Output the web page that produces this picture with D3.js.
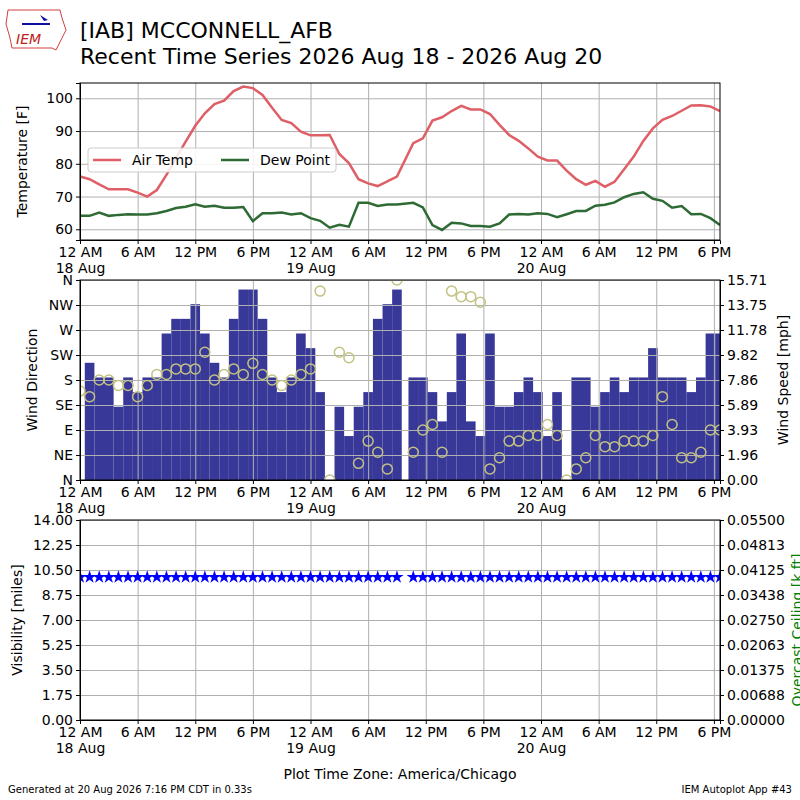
<!DOCTYPE html>
<html lang="en">
<head>
<meta charset="UTF-8">
<script src="https://cdn.jsdelivr.net/npm/d3@7"></script>
<title>IAB time series</title>
<style>
    body { margin: 0; background: #fff; }
    text { font-family: "DejaVu Sans", sans-serif; }
    .grid line { stroke: #b0b0b0; stroke-width: 1; }
    .grid path { display: none; }
    .axis text { font-size: 14px; fill: #000; }
    .axis path, .axis line { stroke: #000; }
</style>
</head>
<body>
<div id="canvas"></div>
<script>
    // hourly obs, hours since 18 Aug 00:00 (local)
    var t1 = d3.range(0, 34), t2 = d3.range(0, 33).map(function (k) { return 34.7 + k * 0.998; });
    var hours = t1.concat(t2);

    var tmpf = [76.1, 75.3, 73.7, 72.2, 72.2, 72.2, 71.2, 70.0, 72.0, 76.6, 81.7, 86.8, 91.6, 95.4, 98.2, 99.3, 102.2, 103.6,
        103.1, 101.0, 97.1, 93.4, 92.4, 89.8, 88.7, 88.7, 88.8, 83.0, 80.2, 75.3, 74.0, 73.2, 74.6, 76.1,
        86.3, 87.8, 93.2, 94.2, 96.1, 97.7, 96.6, 96.6, 95.2, 91.9, 88.8, 87.0, 84.7, 82.2, 81.0, 81.0, 77.9,
        75.3, 73.6, 74.8, 73.0, 74.5, 78.3, 82.2, 87.0, 90.8, 93.4, 94.6, 96.2, 97.8, 97.9, 97.5, 96.1];
    var dwpf = [64.1, 64.1, 65.1, 64.1, 64.4, 64.6, 64.5, 64.5, 64.9, 65.6, 66.5, 66.9, 67.6, 66.9, 67.2, 66.6, 66.6, 66.8,
        62.5, 64.9, 64.9, 65.1, 64.5, 64.9, 63.4, 62.6, 60.5, 61.4, 60.8, 68.1, 68.1, 67.1, 67.6, 67.6,
        68.1, 66.7, 61.3, 59.8, 62.0, 61.8, 61.0, 61.0, 60.8, 61.8, 64.5, 64.7, 64.5, 64.9, 64.7, 63.7, 64.6,
        65.6, 65.6, 67.2, 67.5, 68.2, 69.8, 70.8, 71.3, 69.3, 68.7, 66.6, 67.1, 64.6, 64.7, 63.4, 61.3];
    // knots
    var sknt = [null, 8, 7, 7, 5, 7, 6, 7, 7, 10, 11, 11, 12, 10, 8, 7, 11, 13, 13, 11, 7, 6, 7, 10, 9, 6, 0, 5, 3, 5, 6, 11, 12, 13,
        7, 7, 6, 4, 6, 10, 4, 3, 10, 5, 5, 6, 7, 6, 3, 6, 0, 7, 7, 5, 6, 7, 6, 7, 7, 9, 7, 7, 7, 6, 7, 10, 10];
    var drct = [160, 150, 180, 180, 170, 170, 150, 170, 190, 190, 200, 200, 200, 230, 180, 190, 200, 190, 210, 190, 180, 170,
        180, 190, 200, 340, 0, 230, 220, 30, 70, 50, 20, 360,
        50, 90, 100, 50, 340, 330, 330, 320, 20, 40, 70, 70, 80, 80, 100, 80, 0, 20, 40, 80, 60, 60, 70, 70, 70, 80,
        150, 100, 40, 40, 50, 90, 90];
    var vsby = hours.map(function () { return 10; });

    var start = new Date(2026, 7, 18, 0, 0);
    function toDate(h) { return new Date(start.getTime() + h * 3600e3); }
    var obs = hours.map(function (h, i) {
        return {date: toDate(h), h: h, tmpf: tmpf[i], dwpf: dwpf[i],
            smph: sknt[i] == null ? null : sknt[i] * 1.1508, drct: drct[i], vsby: vsby[i]};
    });

    var W = 800, H = 800, left = 80, right = 720;
    var svg = d3.select("#canvas").append("svg").attr("width", W).attr("height", H);

    var x = d3.scaleTime().domain([start, toDate(hours[hours.length - 1])]).range([left, right]);
    var ticks = d3.range(0, 67, 6).map(toDate);

    function timeAxis(g, y) {
        var ax = d3.axisBottom(x).tickValues(ticks).tickSize(4).tickPadding(3).tickFormat(d3.timeFormat("%-I %p"));
        g.attr("class", "axis").attr("transform", "translate(0," + y + ")").call(ax);
        g.selectAll(".tick text").each(function (d) {
            if (d.getHours() === 0) {
                d3.select(this).append("tspan").attr("x", 0).attr("dy", "1.15em").text(d3.timeFormat("%-d %b")(d));
            }
        });
    }
    function vgrid(top, bottom) {
        svg.append("g").attr("class", "grid").attr("transform", "translate(0," + bottom + ")")
            .call(d3.axisBottom(x).tickValues(ticks).tickSize(-(bottom - top)).tickFormat(""));
    }
    function hgrid(y, vals) {
        svg.append("g").attr("class", "grid").attr("transform", "translate(" + left + ",0)")
            .call(d3.axisLeft(y).tickValues(vals).tickSize(-(right - left)).tickFormat(""));
    }
    function frame(top, bottom) {
        svg.append("rect").attr("x", left).attr("y", top).attr("width", right - left).attr("height", bottom - top)
            .attr("fill", "none").attr("stroke", "#000");
    }
    function clip(id, top, bottom) {
        svg.append("clipPath").attr("id", id).append("rect").attr("x", left).attr("y", top)
            .attr("width", right - left).attr("height", bottom - top);
    }

    // ---- header
    svg.append("text").attr("x", 80).attr("y", 38).attr("font-size", 22).text("[IAB] MCCONNELL_AFB");
    svg.append("text").attr("x", 80).attr("y", 64).attr("font-size", 22).text("Recent Time Series 2026 Aug 18 - 2026 Aug 20");
    var logo = svg.append("g");
    logo.append("path").attr("d", "M8,10 L60,10 L62,18 L66,30 L60,42 L56,50 L52,48 L12,48 L10,38 L6,24 Z")
        .attr("fill", "none").attr("stroke", "#d04040").attr("stroke-width", 1);
    logo.append("line").attr("x1", 22).attr("y1", 24).attr("x2", 50).attr("y2", 24).attr("stroke", "#1010a0").attr("stroke-width", 2);
    logo.append("path").attr("d", "M40,15 L48,20 L44,21 Z").attr("fill", "#1010a0");
    logo.append("text").attr("x", 16).attr("y", 44).attr("font-size", 14).attr("font-style", "italic")
        .attr("font-family", "Liberation Serif, serif").attr("fill", "#c02020").text("IEM");

    // ---- panel 1 temperature
    var p1t = 83, p1b = 240;
    var yT = d3.scaleLinear().domain([56.73, 104.67]).range([p1b, p1t]);
    vgrid(p1t, p1b);
    hgrid(yT, [60, 70, 80, 90, 100]);
    clip("c1", p1t, p1b);
    var series = [{key: "tmpf", name: "Air Temp", color: "#df5f67"}, {key: "dwpf", name: "Dew Point", color: "#2e6a33"}];
    series.forEach(function (s) {
        svg.append("path").datum(obs).attr("clip-path", "url(#c1)")
            .attr("fill", "none").attr("stroke", s.color).attr("stroke-width", 2.5)
            .attr("d", d3.line().x(function (d) { return x(d.date); }).y(function (d) { return yT(d[s.key]); }));
    });
    frame(p1t, p1b);
    svg.append("g").attr("class", "axis").attr("transform", "translate(" + left + ",0)")
        .call(d3.axisLeft(yT).tickValues([60, 70, 80, 90, 100]).tickSize(4));
    timeAxis(svg.append("g"), p1b);
    svg.append("text").attr("transform", "translate(27," + ((p1t + p1b) / 2) + ") rotate(-90)")
        .attr("text-anchor", "middle").attr("font-size", 14).text("Temperature [F]");
    var lg = svg.append("g").attr("transform", "translate(88,148)");
    lg.append("rect").attr("width", 248).attr("height", 24).attr("rx", 3)
        .attr("fill", "#fff").attr("fill-opacity", 0.85).attr("stroke", "#ccc");
    series.forEach(function (s, i) {
        var gx = 5 + i * 128;
        lg.append("line").attr("x1", gx).attr("x2", gx + 28).attr("y1", 12).attr("y2", 12)
            .attr("stroke", s.color).attr("stroke-width", 2.5);
        lg.append("text").attr("x", gx + 39).attr("y", 17).attr("font-size", 14).text(s.name);
    });

    // ---- panel 2 wind
    var p2t = 280, p2b = 480;
    var yD = d3.scaleLinear().domain([0, 360]).range([p2b, p2t]);
    var yS = d3.scaleLinear().domain([0, 15.71]).range([p2b, p2t]);
    clip("c2", p2t, p2b);
    var hw = (x(toDate(1)) - x(toDate(0))) / 2;
    svg.append("g").attr("clip-path", "url(#c2)").selectAll("rect").data(obs.filter(function (d) { return d.smph; }))
        .join("rect")
        .attr("x", function (d) { return x(d.date) - hw; })
        .attr("width", hw * 2)
        .attr("y", function (d) { return yS(d.smph); })
        .attr("height", function (d) { return p2b - yS(d.smph); })
        .attr("fill", "#383898");
    vgrid(p2t, p2b);
    hgrid(yD, d3.range(0, 361, 45));
    svg.append("g").attr("clip-path", "url(#c2)").selectAll("circle").data(obs).join("circle")
        .attr("cx", function (d) { return x(d.date); })
        .attr("cy", function (d) { return yD(d.drct); })
        .attr("r", 5).attr("fill", "none").attr("stroke", "#c2c283").attr("stroke-width", 1.5);
    frame(p2t, p2b);
    svg.append("g").attr("class", "axis").attr("transform", "translate(" + left + ",0)")
        .call(d3.axisLeft(yD).tickValues(d3.range(0, 361, 45)).tickSize(4)
            .tickFormat(function (d, i) { return ["N", "NE", "E", "SE", "S", "SW", "W", "NW", "N"][i]; }));
    svg.append("g").attr("class", "axis").attr("transform", "translate(" + right + ",0)")
        .call(d3.axisRight(yS).tickValues(d3.range(0, 9).map(function (i) { return 15.71 * i / 8; })).tickSize(4)
            .tickFormat(d3.format(".2f")));
    timeAxis(svg.append("g"), p2b);
    svg.append("text").attr("transform", "translate(37," + ((p2t + p2b) / 2) + ") rotate(-90)")
        .attr("text-anchor", "middle").attr("font-size", 14).text("Wind Direction");
    svg.append("text").attr("transform", "translate(788," + ((p2t + p2b) / 2) + ") rotate(-90)")
        .attr("text-anchor", "middle").attr("font-size", 14).text("Wind Speed [mph]");

    // ---- panel 3 visibility / ceiling
    var p3t = 520, p3b = 720;
    var yV = d3.scaleLinear().domain([0, 14]).range([p3b, p3t]);
    var yC = d3.scaleLinear().domain([0, 0.055]).range([p3b, p3t]);
    vgrid(p3t, p3b);
    hgrid(yV, d3.range(0, 9).map(function (i) { return 1.75 * i; }));
    clip("c3", p3t, p3b);
    var star = d3.symbol().type(d3.symbolStar).size(55);
    svg.append("g").attr("clip-path", "url(#c3)").selectAll("path").data(obs).join("path")
        .attr("transform", function (d) { return "translate(" + x(d.date) + "," + yV(d.vsby) + ")"; })
        .attr("d", star).attr("fill", "#0000ff");
    frame(p3t, p3b);
    svg.append("g").attr("class", "axis").attr("transform", "translate(" + left + ",0)")
        .call(d3.axisLeft(yV).tickValues(d3.range(0, 9).map(function (i) { return 1.75 * i; })).tickSize(4)
            .tickFormat(d3.format(".2f")));
    svg.append("g").attr("class", "axis").attr("transform", "translate(" + right + ",0)")
        .call(d3.axisRight(yC).tickValues(d3.range(0, 9).map(function (i) { return 0.055 * i / 8; })).tickSize(4)
            .tickFormat(d3.format(".5f")));
    timeAxis(svg.append("g"), p3b);
    svg.append("text").attr("transform", "translate(22," + ((p3t + p3b) / 2) + ") rotate(-90)")
        .attr("text-anchor", "middle").attr("font-size", 14).text("Visibility [miles]");
    svg.append("text").attr("transform", "translate(802," + ((p3t + p3b) / 2 + 10) + ") rotate(-90)")
        .attr("text-anchor", "middle").attr("font-size", 14).attr("fill", "#008000").text("Overcast Ceiling [k ft]");

    // ---- footer
    svg.append("text").attr("x", 400).attr("y", 779).attr("text-anchor", "middle").attr("font-size", 14)
        .text("Plot Time Zone: America/Chicago");
    svg.append("text").attr("x", 8).attr("y", 793).attr("font-size", 10)
        .text("Generated at 20 Aug 2026 7:16 PM CDT in 0.33s");
    svg.append("text").attr("x", 792).attr("y", 793).attr("text-anchor", "end").attr("font-size", 10)
        .text("IEM Autoplot App #43");
</script>
</body>
</html>
